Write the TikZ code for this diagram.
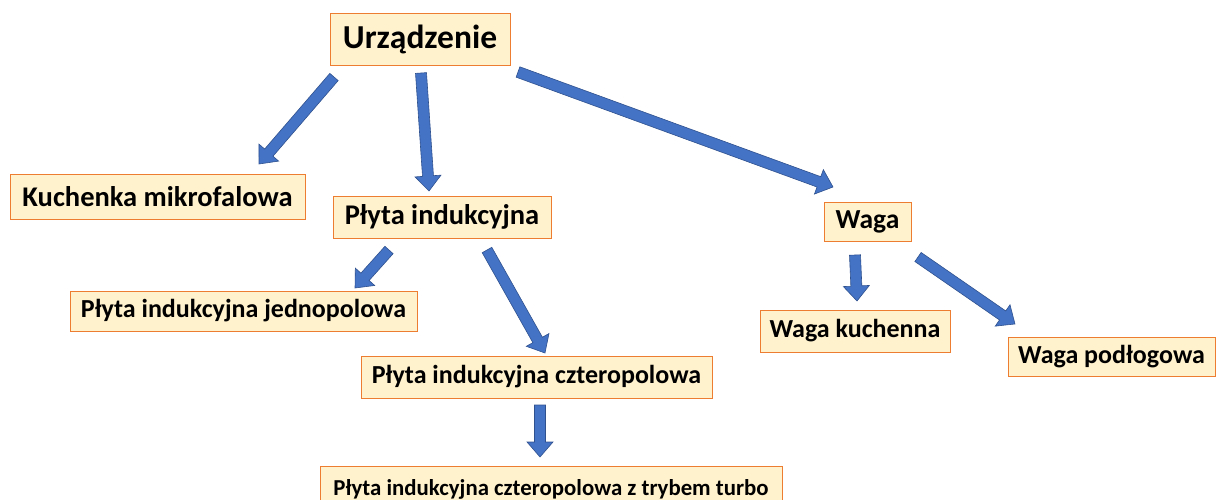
\documentclass[tikz,border=0pt]{standalone}
\usepackage{fontspec}
\setmainfont{Carlito}
\usetikzlibrary{calc}
\definecolor{boxfill}{HTML}{FFF2CC}
\definecolor{boxedge}{HTML}{ED7D31}
\definecolor{arrfill}{HTML}{4472C4}
\definecolor{arrline}{HTML}{2F528F}
\tikzset{
  box/.style={draw=boxedge, line width=1pt, fill=boxfill, inner sep=0pt, font=\bfseries},
  blockarrow/.style={fill=arrfill, draw=arrline, line width=0.6pt, line join=miter}
}
\newcommand\blockarr[2]{%
  \path let \p1=(#1), \p2=(#2), \n1={atan2(\y2-\y1,\x2-\x1)}, \n2={veclen(\x2-\x1,\y2-\y1)} in \pgfextra{\xdef\barang{\n1}\xdef\barlen{\n2}};
  \filldraw[blockarrow, shift={(#1)}, rotate=\barang]
    (0pt,-5.5pt) -- (\barlen-15pt,-5.5pt) -- (\barlen-15pt,-13pt) -- (\barlen,0pt)
    -- (\barlen-15pt,13pt) -- (\barlen-15pt,5.5pt) -- (0pt,5.5pt) -- cycle;
}
\begin{document}
\begin{tikzpicture}[x=1pt,y=-1pt]
\useasboundingbox (0,0) rectangle (1216,499);
% nodes
\node[box, minimum width=180pt, minimum height=52pt, font=\bfseries\fontsize{33.5}{36}\selectfont] (root) at (420,39) {Urządzenie};
\node[box, minimum width=295pt, minimum height=45pt, font=\bfseries\fontsize{28.5}{32}\selectfont] (kuch) at (157.5,196.5) {Kuchenka mikrofalowa};
\node[box, minimum width=218pt, minimum height=42pt, font=\bfseries\fontsize{28.5}{32}\selectfont] (plyta) at (442,217) {Płyta indukcyjna};
\node[box, minimum width=87pt, minimum height=39pt, font=\bfseries\fontsize{27.5}{31}\selectfont] (waga) at (867.5,221.5) {Waga};
\node[box, minimum width=347pt, minimum height=40pt, font=\bfseries\fontsize{26}{29}\selectfont] (jedno) at (243.5,311) {Płyta indukcyjna jednopolowa};
\node[box, minimum width=351pt, minimum height=42pt, font=\bfseries\fontsize{26}{29}\selectfont] (cztero) at (536.5,377) {Płyta indukcyjna czteropolowa};
\node[box, minimum width=190pt, minimum height=42pt, font=\bfseries\fontsize{26}{29}\selectfont] (wkuch) at (855,331) {Waga kuchenna};
\node[box, minimum width=207pt, minimum height=39pt, font=\bfseries\fontsize{26}{29}\selectfont] (wpod) at (1111.5,356.5) {Waga podłogowa};
\node[box, minimum width=462pt, minimum height=46pt, font=\bfseries\fontsize{22.8}{26}\selectfont, anchor=north] (turbo) at (551,466) {Płyta indukcyjna czteropolowa z trybem turbo};
% arrow end points
\coordinate (a1s) at (334,77); \coordinate (a1e) at (259,164);
\coordinate (a2s) at (421,73); \coordinate (a2e) at (429,191);
\coordinate (a3s) at (518,72); \coordinate (a3e) at (833,187);
\coordinate (a4s) at (389,250); \coordinate (a4e) at (355,288);
\coordinate (a5s) at (487,250); \coordinate (a5e) at (545,353);
\coordinate (a6s) at (540,405); \coordinate (a6e) at (540,457);
\coordinate (a7s) at (855,255); \coordinate (a7e) at (857,301);
\coordinate (a8s) at (918,257); \coordinate (a8e) at (1015,324);
\blockarr{a1s}{a1e}
\blockarr{a2s}{a2e}
\blockarr{a3s}{a3e}
\blockarr{a4s}{a4e}
\blockarr{a5s}{a5e}
\blockarr{a6s}{a6e}
\blockarr{a7s}{a7e}
\blockarr{a8s}{a8e}
\end{tikzpicture}
\end{document}
